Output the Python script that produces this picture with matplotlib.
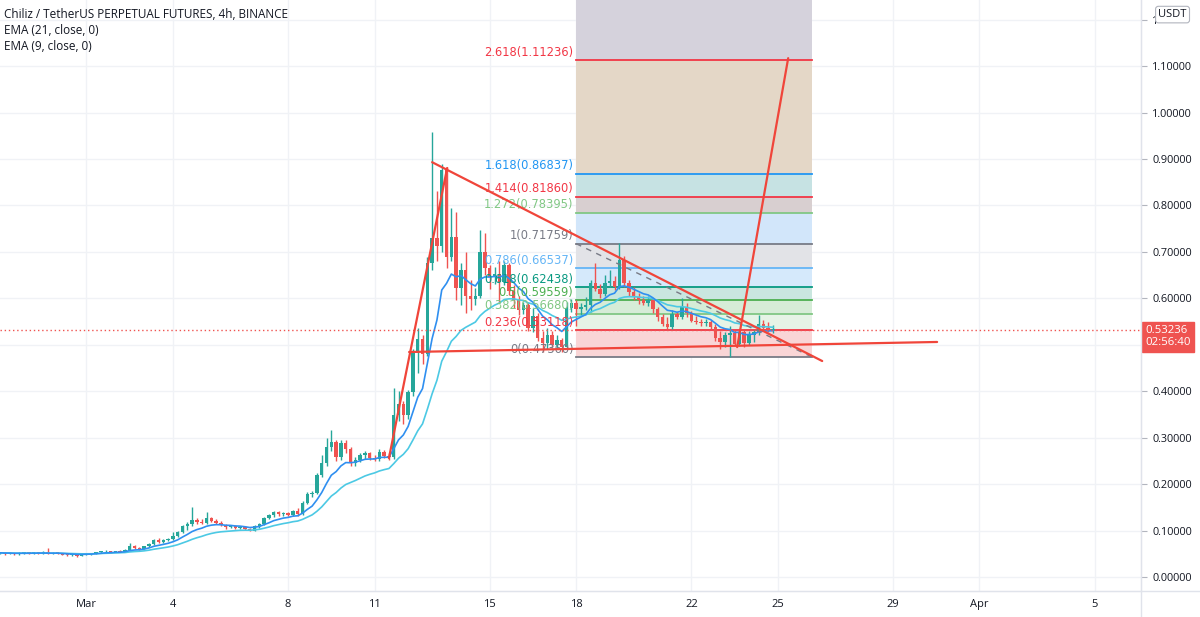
import numpy as np
import pandas as pd
import matplotlib.pyplot as plt
import matplotlib.dates as mdates
from matplotlib.lines import Line2D

plt.rcParams['font.family'] = ['Open Sans', 'DejaVu Sans']

# %% data
title = "Chiliz / TetherUS PERPETUAL FUTURES, 4h, BINANCE"
ema_labels = ["EMA (21, close, 0)", "EMA (9, close, 0)"]

start = "2021-02-26 00:00"   # first 4h candle
# one row = one day (6 candles)
opens = [
    .051, .052, .050, .051, .049, .051,
    .052, .051, .052, .051, .053, .050,
    .052, .051, .048, .047, .048, .046,
    .048, .050, .051, .053, .055, .056,
    .054, .056, .054, .059, .067, .063,
    .061, .066, .072, .080, .076, .079,
    .082, .089, .097, .110, .114, .123,
    .119, .117, .126, .121, .117, .112,
    .107, .110, .105, .108, .103, .100,
    .110, .115, .128, .133, .140, .135,
    .138, .134, .142, .135, .160, .178,
    .181, .220, .245, .280, .290, .258,
    .288, .275, .245, .252, .262, .266,
    .257, .254, .270, .260, .258, .349,
    .372, .348, .398, .482, .512, .480,
    .675, .730, .712, .876, .690, .732,
    .622, .660, .605, .598, .606, .700,
    .665, .645, .652, .636, .672, .615,
    .597, .574, .585, .537, .562, .515,
    .504, .522, .500, .511, .496, .580,
    .590, .576, .582, .586, .632, .620,
    .610, .634, .638, .625, .682, .632,
    .613, .602, .596, .590, .597, .576,
    .560, .545, .538, .566, .560, .582,
    .568, .552, .549, .546, .550, .538,
    .515, .505, .520, .526, .502, .527,
    .503, .522, .528, .545, .537, .531,
]
highs = [
    .054, .053, .053, .052, .053, .054,
    .053, .054, .053, .055, .062, .054,
    .053, .052, .050, .049, .049, .049,
    .051, .052, .054, .056, .058, .057,
    .057, .058, .060, .074, .069, .065,
    .067, .074, .082, .083, .081, .084,
    .097, .099, .112, .118, .150, .127,
    .124, .140, .129, .124, .120, .115,
    .112, .112, .110, .110, .106, .112,
    .117, .130, .135, .143, .142, .141,
    .140, .145, .148, .163, .182, .185,
    .225, .262, .300, .316, .295, .295,
    .294, .280, .258, .268, .272, .270,
    .262, .275, .274, .268, .407, .400,
    .378, .402, .490, .536, .520, .690,
    .958, .830, .890, .882, .794, .786,
    .675, .700, .640, .622, .747, .740,
    .672, .668, .680, .680, .676, .628,
    .604, .592, .592, .580, .568, .530,
    .536, .530, .520, .515, .592, .598,
    .596, .590, .602, .640, .676, .630,
    .650, .660, .648, .718, .692, .640,
    .625, .612, .606, .605, .600, .582,
    .566, .560, .575, .570, .600, .590,
    .572, .562, .556, .555, .553, .545,
    .530, .528, .540, .532, .532, .532,
    .530, .532, .565, .553, .548, .542,
]
lows = [
    .049, .048, .049, .047, .048, .050,
    .049, .050, .050, .050, .049, .049,
    .050, .047, .046, .045, .044, .045,
    .047, .048, .050, .052, .053, .052,
    .053, .053, .053, .058, .061, .059,
    .060, .064, .070, .074, .074, .077,
    .080, .086, .095, .102, .110, .115,
    .114, .115, .118, .115, .110, .104,
    .105, .103, .103, .101, .098, .099,
    .106, .112, .125, .130, .132, .131,
    .131, .132, .132, .133, .157, .172,
    .178, .215, .238, .272, .250, .252,
    .268, .240, .238, .248, .255, .252,
    .250, .250, .256, .252, .255, .335,
    .330, .340, .390, .440, .458, .476,
    .660, .680, .700, .665, .680, .596,
    .585, .568, .575, .585, .600, .650,
    .620, .630, .590, .628, .608, .580,
    .565, .566, .530, .528, .508, .484,
    .490, .495, .492, .484, .490, .570,
    .540, .565, .575, .570, .615, .600,
    .605, .625, .618, .620, .625, .605,
    .596, .588, .585, .584, .568, .552,
    .540, .534, .535, .555, .555, .560,
    .548, .545, .540, .540, .535, .508,
    .490, .495, .474, .498, .498, .496,
    .500, .505, .522, .530, .528, .526,
]
closes = [
    .052, .050, .051, .049, .051, .052,
    .051, .052, .051, .053, .050, .052,
    .051, .048, .047, .048, .046, .048,
    .050, .051, .053, .055, .056, .054,
    .056, .054, .059, .067, .063, .061,
    .066, .072, .080, .076, .079, .082,
    .089, .097, .110, .114, .123, .119,
    .117, .126, .121, .117, .112, .107,
    .110, .105, .108, .103, .100, .110,
    .115, .128, .133, .140, .135, .138,
    .134, .142, .135, .160, .178, .181,
    .220, .245, .280, .290, .258, .288,
    .275, .245, .252, .262, .266, .257,
    .254, .270, .260, .258, .349, .372,
    .348, .398, .482, .512, .480, .675,
    .730, .712, .876, .690, .732, .622,
    .660, .605, .598, .606, .700, .665,
    .645, .652, .636, .672, .615, .597,
    .574, .585, .537, .562, .515, .504,
    .522, .500, .511, .496, .580, .590,
    .576, .582, .586, .632, .620, .610,
    .634, .638, .625, .682, .632, .613,
    .602, .596, .590, .597, .576, .560,
    .545, .538, .566, .560, .582, .568,
    .552, .549, .546, .550, .538, .515,
    .505, .520, .526, .502, .527, .503,
    .522, .528, .545, .537, .531, .53236,
]
last_price = "0.53236"
countdown = "02:56:40"

# fibonacci extension drawing
fib_start = "2021-03-18 00:00"
fib_end = "2021-03-26 04:30"
fib_levels = ["0", "0.236", "0.382", "0.5", "0.618", "0.786", "1", "1.272", "1.414", "1.618", "2.618"]
fib_prices = [0.47360, 0.53118, 0.56680, 0.59559, 0.62438, 0.66537, 0.71759, 0.78395, 0.81860, 0.86837, 1.11236]
fib_line_colors = ["#787b86", "#f23645", "#81c784", "#4caf50", "#089981", "#64b5f6",
                   "#787b86", "#81c784", "#f23645", "#2196f3", "#f23645"]
# fill between a level and the one below it; last entry = above top level
fib_fill_colors = ["#f9d5d6", "#e6f3e6", "#d6ecd7", "#c9e6df", "#d5e9fb", "#e2e3e7",
                   "#d2e6fa", "#d8cfd0", "#c6e2e3", "#e4d7c7", "#d5d2dc"]

# hand drawn lines: (start time, start price, end time, end price)
trend_lines = [
    ("2021-03-13 00:00", 0.893, "2021-03-26 13:00", 0.465),
    ("2021-03-12 04:48", 0.4844, "2021-03-30 12:45", 0.506),
    ("2021-03-11 12:00", 0.256, "2021-03-13 12:30", 0.8805),
    ("2021-03-23 14:10", 0.495, "2021-03-25 08:40", 1.117),
]

tick_dates = ["2021-03-01", "2021-03-04", "2021-03-08", "2021-03-11", "2021-03-15", "2021-03-18",
              "2021-03-22", "2021-03-25", "2021-03-29", "2021-04-01", "2021-04-05"]
tick_labels = ["Mar", "4", "8", "11", "15", "18", "22", "25", "29", "Apr", "5"]

# %% plot
UP = "#26a69a"
DOWN = "#ef5350"
TXT = "#131722"
GRID = "#f0f2f6"

fig = plt.figure(figsize=(12, 6.17), dpi=100)
ax = fig.add_axes([0, 26 / 617, 1141 / 1200, 591 / 617])

times = pd.date_range(start, periods=len(closes), freq="4h")
x = mdates.date2num(times)
o, h, l, c = (np.array(a) for a in (opens, highs, lows, closes))
col = np.where(c >= o, UP, DOWN)

ax.vlines(x, l, h, colors=col, lw=1, zorder=3)
ax.bar(x, np.maximum(np.abs(c - o), 0.002), bottom=np.minimum(o, c), width=0.12,
       color=col, zorder=3, linewidth=0)

ema21 = pd.Series(closes).ewm(span=21, adjust=False).mean()
ema9 = pd.Series(closes).ewm(span=9, adjust=False).mean()
ax.plot(x, ema21, color="#4cc9e4", lw=1.2, zorder=4)
ax.plot(x, ema9, color="#2f8ff0", lw=1.2, zorder=4)

# fib extension
fx0 = mdates.date2num(pd.Timestamp(fib_start))
fx1 = mdates.date2num(pd.Timestamp(fib_end))
ymax = 1.2422
bounds = fib_prices + [ymax]
for i in range(len(fib_prices)):
    ax.fill_between([fx0, fx1], bounds[i], bounds[i + 1], color=fib_fill_colors[i],
                    lw=0, zorder=1)
for lev, p, lc in zip(fib_levels, fib_prices, fib_line_colors):
    ax.plot([fx0, fx1], [p, p], color=lc, lw=1.3, zorder=2)
    ax.annotate(f"{lev}({p:.5f})", (fx0, p), xytext=(-2, 1), textcoords="offset points",
                ha="right", va="bottom", color=lc, fontsize=8.3, family="DejaVu Sans", zorder=6)
ax.plot([fx0, fx1], [fib_prices[6], fib_prices[0]], color="#787b86", lw=1, ls=(0, (4, 4)), zorder=5)

for t0, p0, t1, p1 in trend_lines:
    ax.plot(mdates.date2num([pd.Timestamp(t0), pd.Timestamp(t1)]), [p0, p1],
            color="#f0453a", lw=1.6, zorder=6, solid_capstyle="round")

# current price line
ax.axhline(closes[-1], color=DOWN, lw=1, ls=(0, (1, 2)), zorder=5)

# axes
mar1 = mdates.date2num(pd.Timestamp("2021-03-01"))
ax.set_xlim(mar1 - 3.003, mar1 + 36.61)
ax.set_ylim(-0.0301, ymax)
ax.set_xticks(mdates.date2num(pd.to_datetime(tick_dates)))
ax.set_xticklabels(tick_labels)
yt = np.round(np.arange(0, 1.21, 0.1), 2)
ax.set_yticks(yt)


def ylabel(v):
    if v == 0.5:      # hidden under the last price label
        return ""
    if v == 1.2:      # mostly covered by the USDT box, only the "1" shows
        return "1"
    return f"{v:.5f}"


ax.set_yticklabels([ylabel(v) for v in yt])
ax.yaxis.tick_right()
ax.tick_params(axis="y", length=4, color="#b2b5be", labelsize=7.8, labelcolor=TXT, pad=4)
ax.tick_params(axis="x", length=0, labelsize=8, labelcolor=TXT, pad=6)
ax.grid(True, color=GRID, lw=1, zorder=0)
ax.set_axisbelow(True)
for s in ("top", "left"):
    ax.spines[s].set_visible(False)
ax.spines["right"].set_color("#e0e3eb")
ax.spines["bottom"].set_color("#e0e3eb")
fig.add_artist(Line2D([1141 / 1200, 1141 / 1200], [0, 1], color="#e0e3eb", lw=1))
fig.add_artist(Line2D([0, 1], [26 / 617, 26 / 617], color="#e0e3eb", lw=1))

# price label and currency box
ax.annotate(f"{last_price}\n{countdown}", (1, closes[-1]), xycoords=("axes fraction", "data"),
            xytext=(3, -5), textcoords="offset points", ha="left", va="center",
            color="white", fontsize=8.2, linespacing=1.15, annotation_clip=False, zorder=10,
            bbox=dict(boxstyle="square,pad=0.3", fc=DOWN, ec=DOWN))
ax.annotate("USDT", (1, 1), xycoords="axes fraction", xytext=(12.5, -10.5), textcoords="offset points",
            ha="left", va="center", color=TXT, fontsize=8, annotation_clip=False, zorder=10,
            bbox=dict(boxstyle="round,pad=0.25", fc="white", ec="#b2b5be", lw=0.8))

# legend text
fig.text(4 / 1200, 1 - 15 / 617, title, color=TXT, fontsize=8.5, va="center")
fig.text(4 / 1200, 1 - 31 / 617, ema_labels[0], color=TXT, fontsize=8.5, va="center")
fig.text(4 / 1200, 1 - 46 / 617, ema_labels[1], color=TXT, fontsize=8.5, va="center")

plt.savefig("out.png", dpi=100)
